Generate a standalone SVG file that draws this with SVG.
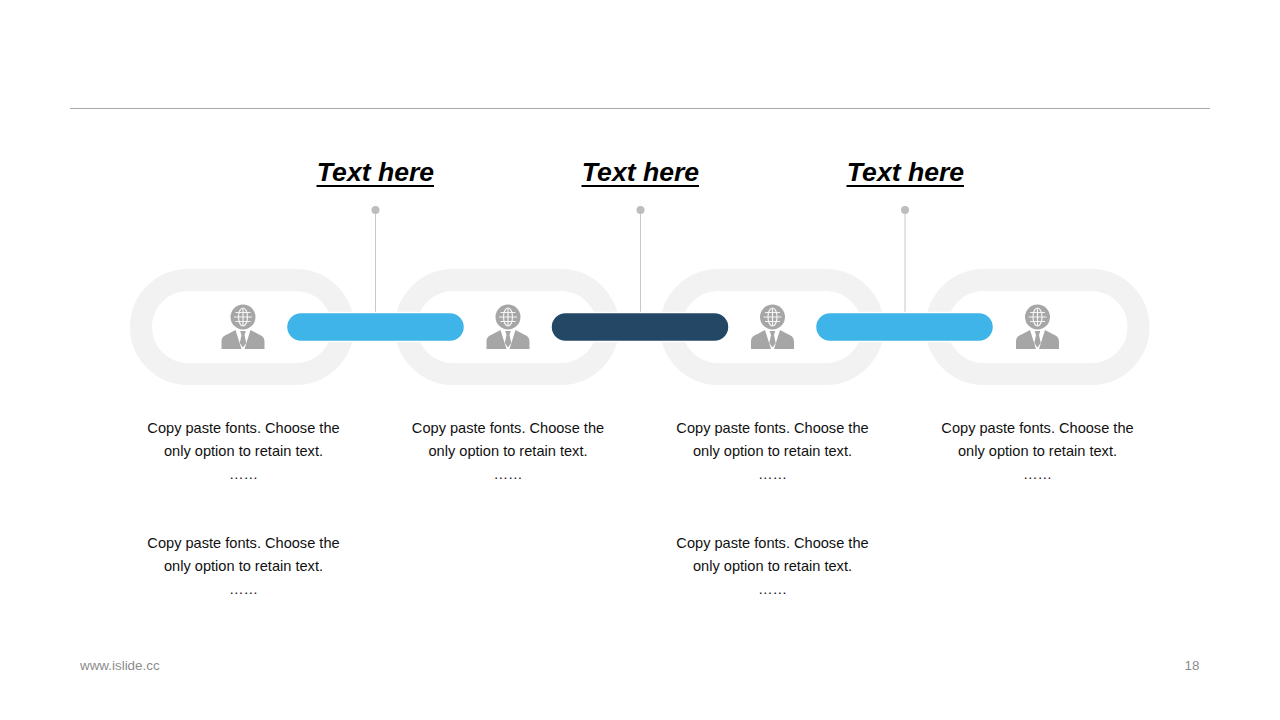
<svg xmlns="http://www.w3.org/2000/svg" xmlns:xlink="http://www.w3.org/1999/xlink" width="1280" height="720" viewBox="0 0 1280 720">
<style>
.ring{fill:none;stroke:#f2f2f2;stroke-width:22}
.lead{stroke:#c8c8c8;stroke-width:1;fill:none}
.dot{fill:#bdbdbd}
.pill{stroke:#fff;stroke-width:1.5}
.lt{fill:#3eb4e8}
.dk{fill:#254766}
.head{font:italic bold 26.6px "Liberation Sans",Arial,sans-serif;fill:#000;text-anchor:middle}
.rule{stroke:#000;stroke-width:2}
.body{font:14.6px "Liberation Sans",Arial,sans-serif;fill:#111;text-anchor:middle}
.foot{font:13.4px "Liberation Sans",Arial,sans-serif;fill:#8c8c8c}
.ic{fill:#a6a6a6}
.gl{fill:none;stroke:#f4f4f4;stroke-width:1.200}
</style>
<defs>
<g id="person">
<circle class="ic" cx="0" cy="0" r="12.500"/>
<g class="gl"><ellipse cx="0" cy="0" rx="4.500" ry="9"/><path d="M0-9V9M-9 0H9M-7.500-4.500H7.500M-7.500 4.500H7.500"/></g>
<path class="ic" d="M-21.500 32V25C-21.500 20.500-19.500 19-16 17.500L-7.500 13L-1.500 32ZM21.500 32V25C21.500 20.500 19.500 19 16 17.500L7.500 13L1.500 32ZM-2.800 14H2.800L1.500 18L3.200 26L0 30.500L-3.200 26L-1.500 18Z"/>
</g>
</defs>
<rect width="1280" height="720" fill="#fff"/>
<path d="M70 108.500H1210" stroke="#a9a9a9" stroke-width="1"/>
<g id="connectors">
<path class="lead" d="M375.500 210V314M640.500 210V314M905 210V314"/>
<circle class="dot" cx="375.500" cy="210" r="4"/>
<circle class="dot" cx="640.500" cy="210" r="4"/>
<circle class="dot" cx="905" cy="210" r="4"/>
</g>
<g id="node-1"><rect class="ring" x="141" y="280" width="202" height="94" rx="47"/><use xlink:href="#person" href="#person" x="243" y="317"/>
<text class="body" x="243.500" y="433">Copy paste fonts. Choose the</text><text class="body" x="243.500" y="456">only option to retain text.</text><text class="body" x="243.500" y="479">……</text>
<text class="body" x="243.500" y="548">Copy paste fonts. Choose the</text><text class="body" x="243.500" y="571">only option to retain text.</text><text class="body" x="243.500" y="594">……</text></g>
<g id="node-2"><rect class="ring" x="406" y="280" width="202" height="94" rx="47"/><use xlink:href="#person" href="#person" x="508" y="317"/>
<text class="body" x="508" y="433">Copy paste fonts. Choose the</text><text class="body" x="508" y="456">only option to retain text.</text><text class="body" x="508" y="479">……</text></g>
<g id="node-3"><rect class="ring" x="671" y="280" width="202" height="94" rx="47"/><use xlink:href="#person" href="#person" x="772.500" y="317"/>
<text class="body" x="772.500" y="433">Copy paste fonts. Choose the</text><text class="body" x="772.500" y="456">only option to retain text.</text><text class="body" x="772.500" y="479">……</text>
<text class="body" x="772.500" y="548">Copy paste fonts. Choose the</text><text class="body" x="772.500" y="571">only option to retain text.</text><text class="body" x="772.500" y="594">……</text></g>
<g id="node-4"><rect class="ring" x="936.500" y="280" width="202" height="94" rx="47"/><use xlink:href="#person" href="#person" x="1037.500" y="317"/>
<text class="body" x="1037.500" y="433">Copy paste fonts. Choose the</text><text class="body" x="1037.500" y="456">only option to retain text.</text><text class="body" x="1037.500" y="479">……</text></g>
<g id="link-1"><rect class="pill lt" x="286.500" y="312.500" width="178" height="29" rx="14.500"/><text class="head" x="375.500" y="180.500">Text here</text><path class="rule" d="M316.500 186H434"/></g>
<g id="link-2"><rect class="pill dk" x="551" y="312.500" width="178" height="29" rx="14.500"/><text class="head" x="640.500" y="180.500">Text here</text><path class="rule" d="M581.500 186H699"/></g>
<g id="link-3"><rect class="pill lt" x="815.500" y="312.500" width="178" height="29" rx="14.500"/><text class="head" x="905.500" y="180.500">Text here</text><path class="rule" d="M846.500 186H964"/></g>
<text class="foot" x="80" y="670">www.islide.cc</text>
<text class="foot" x="1184.500" y="670">18</text>
</svg>
